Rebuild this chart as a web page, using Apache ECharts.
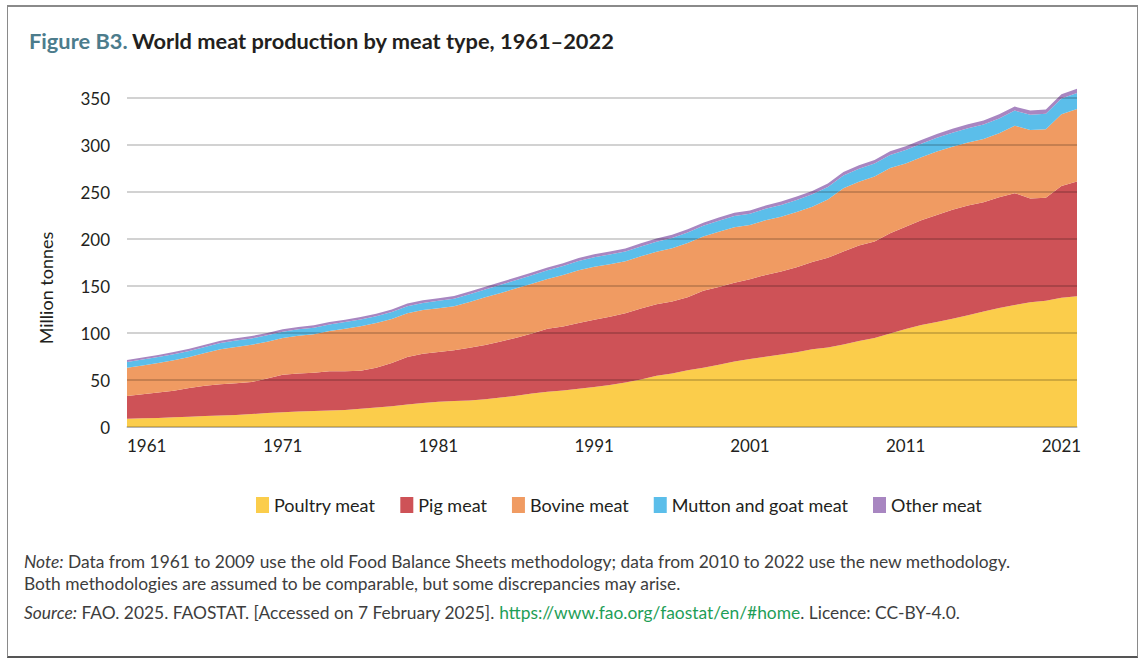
<!DOCTYPE html>
<html>
<head>
<meta charset="utf-8">
<script src="https://cdn.jsdelivr.net/npm/echarts@6/dist/echarts.min.js"></script>
<style>
html,body{margin:0;padding:0;background:#fff;}
#chart{position:absolute;left:0;top:0;width:1146px;height:671px;}
#frame{position:absolute;left:7px;top:5px;width:1129px;height:649px;border-top:2px solid #8a8a8a;border-left:1px solid #8a8a8a;border-right:1px solid #8a8a8a;border-bottom:2px solid #555;pointer-events:none;}
</style>
</head>
<body>
<div id="chart"></div>
<div id="frame"></div>
<script>
const years = [];
for (let y = 1961; y <= 2022; y++) years.push(String(y));

const poultryMeat = [8.7,9.2,9.7,10.3,11.0,11.6,12.3,12.8,13.8,14.8,
  15.6,16.5,17.0,17.6,18.2,19.5,20.8,22.2,24.0,25.4,
  26.8,27.6,28.3,29.6,31.4,33.2,35.6,37.4,38.8,40.6,
  42.6,44.6,47.3,50.6,54.4,56.8,60.4,63.0,66.2,69.6,
  72.4,74.8,77.2,79.6,82.6,84.6,87.8,91.4,94.6,99.6,
  104.2,108.4,111.6,115.2,118.8,122.8,126.6,129.8,132.8,134.2,
  137.6,139.2];
const pigMeat = [24.3,25.6,26.9,28.3,30.6,32.4,33.3,33.8,34.0,36.8,
  40.0,40.3,40.6,41.6,41.2,40.3,42.2,45.8,50.4,52.6,
  53.0,54.0,55.9,57.6,59.6,61.8,64.0,67.0,68.0,70.0,
  71.4,72.8,73.7,75.4,76.2,76.8,77.6,82.0,82.8,83.8,
  84.8,87.0,88.2,90.4,93.0,95.4,98.8,101.6,102.8,106.4,
  108.8,111.6,114.0,115.8,116.8,116.2,117.8,119.0,110.4,109.8,
  118.8,122.0];
const bovineMeat = [29.9,30.6,31.4,32.4,32.8,34.6,37.0,38.6,39.6,39.2,
  39.0,40.2,41.2,43.0,45.2,47.4,47.6,47.0,46.6,46.4,
  46.6,46.8,48.8,50.8,51.6,52.6,52.8,53.0,54.8,56.2,
  56.6,55.8,55.4,55.6,55.8,56.6,57.8,57.6,58.8,59.2,
  57.8,58.2,58.4,58.8,58.8,62.0,67.4,68.0,69.0,69.4,
  67.4,67.0,67.4,67.2,67.0,67.4,68.2,71.8,72.8,72.8,
  76.4,77.2];
const muttonGoatMeat = [6.2,6.3,6.4,6.4,6.5,6.6,6.7,6.8,6.8,6.8,
  6.8,6.9,6.8,6.9,7.0,7.1,7.2,7.3,7.5,7.6,
  7.8,8.0,8.2,8.4,8.6,8.8,9.0,9.3,9.6,9.9,
  10.1,10.2,10.3,10.5,10.7,10.9,11.2,11.4,11.6,11.8,
  11.9,12.1,12.4,12.8,13.1,13.3,13.5,13.7,13.9,14.0,
  14.2,14.4,14.6,14.9,15.2,15.4,15.7,16.0,16.3,16.5,
  16.8,17.0];
const otherMeat = [2.2,2.2,2.3,2.3,2.3,2.4,2.4,2.4,2.5,2.5,
  2.5,2.5,2.6,2.6,2.6,2.7,2.7,2.7,2.8,2.8,
  2.8,2.9,2.9,2.9,3.0,3.0,3.0,3.1,3.1,3.1,
  3.2,3.2,3.2,3.3,3.3,3.3,3.4,3.4,3.4,3.5,
  3.5,3.5,3.6,3.6,3.6,3.7,3.7,3.7,3.8,3.9,
  4.0,4.0,4.1,4.1,4.2,4.2,4.3,4.3,4.3,4.4,
  4.5,4.5];

const seriesNames = ['Poultry meat','Pig meat','Bovine meat','Mutton and goat meat','Other meat'];
const seriesData = [poultryMeat, pigMeat, bovineMeat, muttonGoatMeat, otherMeat];
const colors = ['#FBCD4B','#CE5257','#F09B62','#5BBEEA','#A886C1'];

const FONT = 'Lato, "Source Sans Pro", "Noto Sans", sans-serif';
const NOTE_SIZE = 17.4;

const chart = echarts.init(document.getElementById('chart'), null, {renderer:'svg'});
chart.setOption({
  animation:false,
  textStyle:{fontFamily:FONT},
  color: colors,
  title:{
    left:24, top:24,
    text:'{a|Figure B3.} {b|World meat production by meat type, 1961–2022}',
    textStyle:{
      rich:{
        a:{fontSize:21.8, fontWeight:'bold', color:'#4C7C8C', fontFamily:FONT},
        b:{fontSize:21.8, fontWeight:'bold', color:'#231F20', fontFamily:FONT}
      }
    }
  },
  legend:{
    left:251, top:491,
    icon:'rect', itemWidth:13, itemHeight:16, itemGap:25,
    textStyle:{fontSize:18, color:'#231F20', fontFamily:FONT},
    data: seriesNames
  },
  grid:{left:127, right:69, top:98, bottom:244, containLabel:false},
  xAxis:{
    type:'category', data: years, boundaryGap:false,
    axisTick:{show:false},
    axisLine:{lineStyle:{color:'#cfcfcf', width:1.5}},
    axisLabel:{interval:9, fontSize:17, color:'#231F20', margin:10, alignMinLabel:'left', fontFamily:FONT}
  },
  yAxis:{
    type:'value', min:0, max:350, interval:50, z:5,
    axisLine:{show:false}, axisTick:{show:false},
    axisLabel:{fontSize:17, color:'#231F20', margin:17, fontFamily:FONT},
    splitLine:{lineStyle:{color:'rgba(0,0,0,0.24)', width:1.5}}
  },
  series: seriesNames.map((n,i)=>({
    name:n, type:'line', stack:'total', data: seriesData[i],
    showSymbol:false, symbol:'none', clip:false,
    lineStyle:{width:0}, areaStyle:{color:colors[i], opacity:1},
    itemStyle:{color:colors[i]}, z:2
  })),
  graphic:[
    {type:'text', x:46, y:288, rotation:Math.PI/2, style:{
      text:'Million tonnes', fontSize:18, fill:'#231F20', fontFamily:FONT,
      align:'center', verticalAlign:'middle'
    }},
    {type:'text', left:24, top:553, style:{
      text:'{i|Note:} Data from 1961 to 2009 use the old Food Balance Sheets methodology; data from 2010 to 2022 use the new methodology.',
      fontSize:NOTE_SIZE, fill:'#3d3d3d', fontFamily:FONT,
      rich:{i:{fontStyle:'italic', fontSize:NOTE_SIZE, fill:'#3d3d3d', fontFamily:FONT}}
    }},
    {type:'text', left:24, top:575, style:{
      text:'Both methodologies are assumed to be comparable, but some discrepancies may arise.',
      fontSize:NOTE_SIZE, fill:'#3d3d3d', fontFamily:FONT
    }},
    {type:'text', left:24, top:604, style:{
      text:'{i|Source:} FAO. 2025. FAOSTAT. [Accessed on 7 February 2025]. {g|https://www.fao.org/faostat/en/#home}. Licence: CC-BY-4.0.',
      fontSize:NOTE_SIZE, fill:'#3d3d3d', fontFamily:FONT,
      rich:{
        i:{fontStyle:'italic', fontSize:NOTE_SIZE, fill:'#3d3d3d', fontFamily:FONT},
        g:{fontSize:NOTE_SIZE, fill:'#1E9E57', fontFamily:FONT}
      }
    }}
  ]
});
</script>
</body>
</html>
